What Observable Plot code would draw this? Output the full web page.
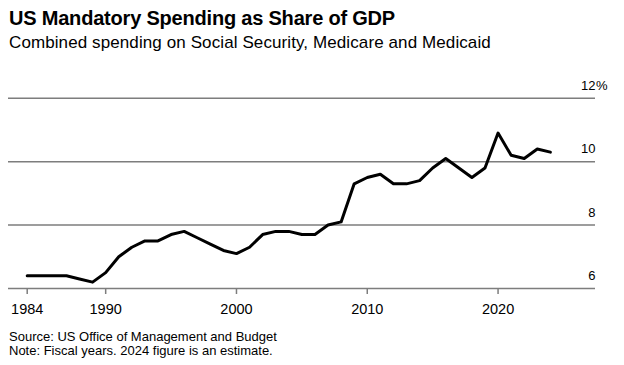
<!DOCTYPE html>
<html>
<head>
<meta charset="utf-8">
<script src="https://cdn.jsdelivr.net/npm/d3@7"></script>
<script src="https://cdn.jsdelivr.net/npm/@observablehq/plot@0.6"></script>
<style>
  html, body { margin: 0; padding: 0; background: #fff; }
  #wrap { position: relative; width: 624px; height: 365px; overflow: hidden; font-family: "Liberation Sans", Arial, Helvetica, sans-serif; color: #000; }
  .t { position: absolute; left: 9px; white-space: nowrap; line-height: 1; }
  #title { top: 8px; font-size: 20px; font-weight: bold; letter-spacing: -0.2px; }
  #subtitle { top: 34px; font-size: 17px; letter-spacing: 0.1px; }
  #source { top: 330px; font-size: 13px; }
  #note { top: 344px; font-size: 13px; }
  #chart { position: absolute; left: 0; top: 60px; }
  #chart g[aria-label="x-axis tick label"] text { font-size: 14.5px; }
  #chart g[aria-label="text"] text { font-size: 13px; }
</style>
</head>
<body>
<div id="wrap">
  <div class="t" id="title">US Mandatory Spending as Share of GDP</div>
  <div class="t" id="subtitle">Combined spending on Social Security, Medicare and Medicaid</div>
  <div id="chart"></div>
  <div class="t" id="source">Source: US Office of Management and Budget</div>
  <div class="t" id="note">Note: Fiscal years. 2024 figure is an estimate.</div>
</div>
<script>
const years = [1984,1985,1986,1987,1988,1989,1990,1991,1992,1993,1994,1995,1996,1997,1998,1999,
  2000,2001,2002,2003,2004,2005,2006,2007,2008,2009,2010,2011,2012,2013,2014,2015,2016,2017,2018,2019,
  2020,2021,2022,2023,2024];
const shareOfGDP = [6.4,6.4,6.4,6.4,6.3,6.2,6.5,7.0,7.3,7.5,7.5,7.7,7.8,7.6,7.4,7.2,
  7.1,7.3,7.7,7.8,7.8,7.7,7.7,8.0,8.1,9.3,9.5,9.6,9.3,9.3,9.4,9.8,10.1,9.8,9.5,9.8,
  10.9,10.2,10.1,10.4,10.3];
const yTicks = [6, 8, 10, 12];
const xTicks = [1984, 1990, 2000, 2010, 2020];
const yUnit = "%";

const data = years.map((y, i) => ({year: y, value: shareOfGDP[i]}));
const xMin = 1982.57, xMax = 2027.45;
const grid = "#7d7d7d";
const yTop = d3.max(yTicks);

const chart = Plot.plot({
  width: 624,
  height: 260,
  marginLeft: 8,
  marginRight: 29,
  marginTop: 37.7,
  marginBottom: 32,
  style: {fontFamily: "'Liberation Sans', Arial, Helvetica, sans-serif", fontSize: "13px", color: "#000", background: "#fff"},
  x: {domain: [xMin, xMax]},
  y: {domain: [6, 12], axis: null},
  marks: [
    Plot.ruleY(yTicks, {stroke: grid, strokeWidth: 1.5}),
    Plot.axisX({ticks: xTicks, tickSize: 6, tickPadding: 9, tickFormat: "d", stroke: grid, strokeWidth: 1.5, label: null}),
    Plot.text(yTicks, {x: xMax, y: d => d, text: d => String(d), textAnchor: "end", lineAnchor: "bottom", dx: 0, dy: -8.5}),
    Plot.text([yTop], {x: xMax, y: d => d, text: () => yUnit, textAnchor: "start", lineAnchor: "bottom", dx: 0.5, dy: -8.5}),
    Plot.line(data, {x: "year", y: "value", stroke: "#000", strokeWidth: 3})
  ]
});
document.getElementById("chart").appendChild(chart);
</script>
</body>
</html>
